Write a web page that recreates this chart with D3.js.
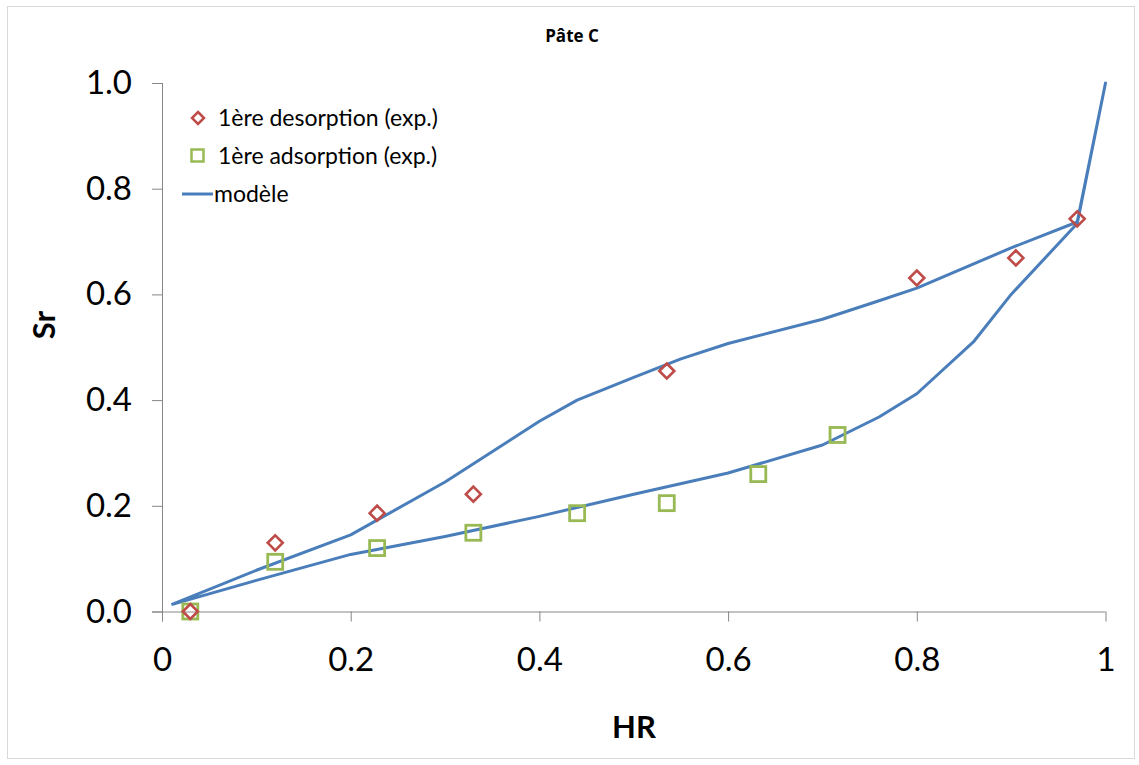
<!DOCTYPE html>
<html><head><meta charset="utf-8">
<script src="https://cdn.jsdelivr.net/npm/d3@7"></script>
<style>body{margin:0;background:#fff}svg{display:block}</style>
</head><body>
<script>
const title = "Pâte C";
const xTicks = [0, 0.2, 0.4, 0.6, 0.8, 1];
const xTickLabels = ["0", "0.2", "0.4", "0.6", "0.8", "1"];
const yTicks = [0, 0.2, 0.4, 0.6, 0.8, 1.0];
const yTickLabels = ["0.0", "0.2", "0.4", "0.6", "0.8", "1.0"];
const seriesNames = ["1ère desorption (exp.)", "1ère adsorption (exp.)", "modèle"];

const desHR = [0.03, 0.12, 0.228, 0.33, 0.535, 0.80, 0.905, 0.970];
const desSr = [0.0, 0.13, 0.186, 0.222, 0.455, 0.631, 0.669, 0.743];
const adsHR = [0.03, 0.12, 0.228, 0.33, 0.44, 0.535, 0.632, 0.716];
const adsSr = [0.0, 0.094, 0.12, 0.149, 0.186, 0.205, 0.26, 0.334];

// model: adsorption branch up to HR=1, then desorption branch back down
const modelHR = [0.01, 0.1, 0.2, 0.3, 0.4, 0.5, 0.6, 0.7, 0.76, 0.8, 0.86, 0.9, 0.97, 1.0,
                 0.97, 0.9, 0.8, 0.76, 0.7, 0.6, 0.55, 0.5, 0.44, 0.4, 0.3, 0.2, 0.1, 0.01];
const modelSr = [0.013, 0.059, 0.108, 0.142, 0.18, 0.222, 0.262, 0.315, 0.368, 0.412, 0.51, 0.60, 0.734, 1.0,
                 0.737, 0.688, 0.612, 0.588, 0.553, 0.507, 0.478, 0.443, 0.40, 0.36, 0.245, 0.145, 0.078, 0.013];

const W = 1139, H = 765;
const svg = d3.select("body").append("svg").attr("width", W).attr("height", H);
svg.append("rect").attr("x", 7.5).attr("y", 6.5).attr("width", 1127).attr("height", 752)
  .attr("fill", "#fff").attr("stroke", "#d9d9d9");

const x = d3.scaleLinear().domain([0, 1]).range([162, 1105.5]);
const y = d3.scaleLinear().domain([0, 1]).range([611.5, 83]);
const font = "Lato, 'Open Sans', sans-serif";
const axisColor = "#868686";

// x axis
const gx = svg.append("g").attr("transform", `translate(0,${y(0)})`)
  .call(d3.axisBottom(x).tickValues(xTicks).tickFormat((d, i) => xTickLabels[i]).tickSize(10).tickSizeOuter(0).tickPadding(26));
gx.select(".domain").attr("stroke", axisColor).attr("d", `M${x(0) - 10},0.5H${x(1)}`);
gx.selectAll(".tick line").attr("stroke", axisColor);
gx.selectAll(".tick text").attr("font-family", font).attr("font-size", 33).attr("fill", "#000");

// y axis
const gy = svg.append("g").attr("transform", `translate(${x(0)},0)`)
  .call(d3.axisLeft(y).tickValues(yTicks).tickFormat((d, i) => yTickLabels[i]).tickSize(10).tickSizeOuter(0).tickPadding(20));
gy.select(".domain").attr("stroke", axisColor).attr("d", `M0.5,${y(0) + 10}V${y(1)}`);
gy.selectAll(".tick line").attr("stroke", axisColor);
gy.selectAll(".tick text").attr("font-family", font).attr("font-size", 33).attr("fill", "#000");

// titles
svg.append("text").attr("x", 572).attr("y", 42).attr("text-anchor", "middle")
  .attr("font-family", "'Open Sans', sans-serif").attr("font-weight", "bold").attr("font-size", 17).text(title);
svg.append("text").attr("x", 634).attr("y", 738).attr("text-anchor", "middle")
  .attr("font-family", font).attr("font-weight", "bold").attr("font-size", 31).text("HR");
svg.append("text").attr("transform", "translate(55,325) rotate(-90)").attr("text-anchor", "middle")
  .attr("font-family", font).attr("font-weight", "bold").attr("font-size", 31).text("Sr");

const blue = "#4a7ebb", red = "#be4b48", green = "#98b954";

// model line
const modelData = modelHR.map((h, i) => [h, modelSr[i]]);
svg.append("path").datum(modelData)
  .attr("d", d3.line().x(d => x(d[0])).y(d => y(d[1])))
  .attr("fill", "none").attr("stroke", blue).attr("stroke-width", 3).attr("stroke-linejoin", "round");

// adsorption squares
const adsData = adsHR.map((h, i) => [h, adsSr[i]]);
svg.append("g").selectAll("rect").data(adsData).join("rect")
  .attr("x", d => x(d[0]) - 7.5).attr("y", d => y(d[1]) - 7.5).attr("width", 15).attr("height", 15)
  .attr("fill", "none").attr("stroke", green).attr("stroke-width", 2.8);

// desorption diamonds
const desData = desHR.map((h, i) => [h, desSr[i]]);
const diamond = "M0,-7.5L7.5,0L0,7.5L-7.5,0Z";
svg.append("g").selectAll("path").data(desData).join("path")
  .attr("transform", d => `translate(${x(d[0])},${y(d[1])})`).attr("d", diamond)
  .attr("fill", "none").attr("stroke", red).attr("stroke-width", 2.6);

// legend
const lg = svg.append("g").attr("font-family", font).attr("font-size", 23);
lg.append("path").attr("transform", "translate(198,118)").attr("d", "M0,-6L6,0L0,6L-6,0Z")
  .attr("fill", "none").attr("stroke", red).attr("stroke-width", 2.5);
lg.append("text").attr("x", 218).attr("y", 118).attr("dy", "0.35em").text(seriesNames[0]);
lg.append("rect").attr("x", 191.5).attr("y", 149.5).attr("width", 12).attr("height", 12)
  .attr("fill", "none").attr("stroke", green).attr("stroke-width", 2.5);
lg.append("text").attr("x", 218).attr("y", 156).attr("dy", "0.35em").text(seriesNames[1]);
lg.append("line").attr("x1", 182).attr("x2", 213).attr("y1", 194).attr("y2", 194)
  .attr("stroke", blue).attr("stroke-width", 3);
lg.append("text").attr("x", 214).attr("y", 194).attr("dy", "0.35em").text(seriesNames[2]);
</script>
</body></html>
